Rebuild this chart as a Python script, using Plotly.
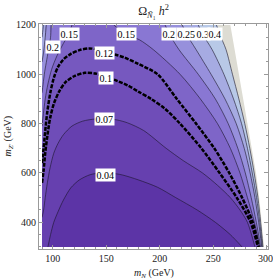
import plotly.graph_objects as go

# ---------------- data ----------------
levels = [0.04, 0.07, 0.1, 0.12, 0.15, 0.2, 0.25, 0.3, 0.4]
x_ticks = [100, 150, 200, 250, 300]
y_ticks = [400, 600, 800, 1000, 1200]

# domain of the scan
mN_min = 90
mZ_min = 300
mZ_max = 1200
edge_x = [266, 270, 274, 278, 282.5, 286.5, 290, 293, 295.5, 297.5]
edge_y = [1200, 1100, 1000, 900, 800, 700, 600, 500, 400, 300]

# contour 0.04
c004_x = [95.5, 98, 101, 105, 110, 117, 125, 135, 145, 155, 165, 180, 198, 215, 235, 252, 266, 277]
c004_y = [300, 350, 400, 443, 490, 540, 572, 593, 600, 599, 592, 572, 542, 500, 450, 400, 350, 300]
# contour 0.07
c007_x = [90, 91.5, 93, 95, 97.5, 101, 105, 110, 118, 128, 140, 150, 160, 170, 185, 206, 222, 240, 254, 266, 275, 282, 289]
c007_y = [420, 450, 500, 560, 620, 680, 720, 755, 790, 810, 819, 820, 815, 803, 772, 700, 650, 600, 550, 500, 450, 400, 300]
# contour 0.1
c010_x = [90, 91.5, 93, 95, 97.5, 101, 106, 112, 120, 130, 140, 149.5, 158, 170, 180, 192, 205, 219, 239, 256, 272, 285, 291.8]
c010_y = [560, 610, 680, 750, 820, 880, 930, 968, 992, 1006, 1003, 990, 977, 955, 930, 900, 860, 800, 700, 600, 500, 400, 300]
# contour 0.12
c012_x = [90, 91.5, 93, 95, 98, 101, 105, 110, 117, 125, 134, 142, 148.6, 158, 167, 180, 198, 216, 234, 251, 265, 277, 287, 292.7]
c012_y = [640, 700, 770, 850, 930, 985, 1030, 1060, 1083, 1098, 1105, 1100, 1090, 1080, 1068, 1042, 1000, 900, 800, 700, 600, 500, 400, 300]
# contour 0.15 (left and right branches)
c015_left_x = [90, 91.3, 93, 95.5, 99, 104, 110, 115.5, 118]
c015_left_y = [790, 840, 900, 960, 1020, 1075, 1125, 1166, 1200]
c015_right_x = [157, 169, 181, 194, 219, 238, 254, 266, 275, 282, 288.5, 293.5]
c015_right_y = [1200, 1161, 1140, 1100, 1000, 900, 800, 700, 600, 500, 400, 300]
# contour 0.2
c020_left_x = [90, 91, 92.5, 94.5, 96.5, 98, 98.5]
c020_left_y = [925, 960, 1010, 1060, 1110, 1150, 1200]
c020_right_x = [205, 209, 218, 236, 252, 264, 273, 280, 285.5, 290.3, 294.3]
c020_right_y = [1200, 1163, 1100, 1000, 900, 800, 700, 600, 500, 400, 300]
# contour 0.25
c025_left_x = [90, 91.5, 93, 94]
c025_left_y = [1050, 1090, 1150, 1200]
c025_right_x = [221, 225, 234, 248, 261, 271.5, 279, 284.5, 289, 292.5, 295.3]
c025_right_y = [1200, 1163, 1100, 1000, 900, 800, 700, 600, 500, 400, 300]
# contour 0.3
c030_left_x = [90, 90.6, 91.3]
c030_left_y = [1150, 1170, 1200]
c030_right_x = [236, 240, 249, 260, 269, 276.5, 282, 286.5, 290.5, 293.5, 295.9]
c030_right_y = [1200, 1163, 1100, 1000, 900, 800, 700, 600, 500, 400, 300]
# contour 0.4
c040_x = [253, 256, 262, 268, 274, 279.5, 284.2, 288.3, 291.8, 294.4, 296.5]
c040_y = [1200, 1163, 1100, 1000, 900, 800, 700, 600, 500, 400, 300]

# contour label positions (text, mN, mZ')
label_text = ["0.15", "0.2", "0.15", "0.12", "0.1", "0.07", "0.04", "0.2", "0.25", "0.3", "0.4"]
label_x = [115.5, 100.5, 169, 148.6, 149.5, 148.6, 149.5, 208.5, 225, 240, 251.5]
label_y = [1164, 1112, 1163, 1085, 985, 819, 593, 1163, 1163, 1163, 1163]

# ---------------- styling ----------------
band_colors = ['#5c34a6', '#6640af', '#6f4db8', '#7658bf', '#7e65c8',
               '#8977d3', '#9790dc', '#a6abe2', '#b8c9e7', '#dddcd3']
SERIF = "Liberation Serif, Times New Roman, serif"

pieces = {
    0.04: (None, (c004_x, c004_y), 'closed'),
    0.07: (None, (c007_x, c007_y), 'edge'),
    0.1: (None, (c010_x, c010_y), 'edge'),
    0.12: (None, (c012_x, c012_y), 'edge'),
    0.15: ((c015_left_x, c015_left_y), (c015_right_x, c015_right_y), 'split'),
    0.2: ((c020_left_x, c020_left_y), (c020_right_x, c020_right_y), 'split'),
    0.25: ((c025_left_x, c025_left_y), (c025_right_x, c025_right_y), 'split'),
    0.3: ((c030_left_x, c030_left_y), (c030_right_x, c030_right_y), 'split'),
    0.4: (None, (c040_x, c040_y), 'top'),
}


def sublevel_polygon(lv):
    left, main, kind = pieces[lv]
    mx, my = main
    if kind == 'closed':
        return list(mx), list(my)
    if kind == 'edge':
        return [mN_min] + list(mx), [mZ_min] + list(my)
    if kind == 'top':
        return [mN_min, mN_min] + list(mx), [mZ_min, mZ_max] + list(my)
    lx, ly = left
    return [mN_min] + list(lx) + list(mx), [mZ_min] + list(ly) + list(my)


fig = go.Figure()

# highest band: the whole scan domain
fig.add_trace(go.Scatter(
    x=[mN_min, mN_min, 305, 305], y=[mZ_min, mZ_max, mZ_max, mZ_min],
    fill='toself', fillcolor=band_colors[-1], mode='lines', line=dict(width=0),
    hoverinfo='skip', showlegend=False))

# sublevel fills, from the highest level down
for i in range(len(levels) - 1, -1, -1):
    lv = levels[i]
    px_, py_ = sublevel_polygon(lv)
    fig.add_trace(go.Scatter(
        x=px_, y=py_, fill='toself', fillcolor=band_colors[i], mode='lines',
        line=dict(width=0, shape='spline', smoothing=0.8),
        hoverinfo='skip', showlegend=False))

# contour lines
for lv in levels:
    left, main, kind = pieces[lv]
    xs, ys = [], []
    if left is not None:
        xs += list(left[0]) + [None]
        ys += list(left[1]) + [None]
    xs += list(main[0])
    ys += list(main[1])
    if lv in (0.1, 0.12):
        fig.add_trace(go.Scatter(
            x=xs, y=ys, mode='lines',
            line=dict(color='black', width=2.5, dash='4px,1.4px', shape='spline', smoothing=0.8),
            hoverinfo='skip', showlegend=False))
    else:
        fig.add_trace(go.Scatter(
            x=xs, y=ys, mode='lines',
            line=dict(color='rgba(25,20,40,0.85)', width=0.7, shape='spline', smoothing=0.8),
            hoverinfo='skip', showlegend=False))

# white outside the scan domain
masks = [
    ([70, mN_min, mN_min, 70], [250, 250, 1250, 1250]),
    ([70, 320, 320, 70], [250, 250, mZ_min, mZ_min]),
    ([70, 320, 320, 70], [mZ_max, mZ_max, 1250, 1250]),
    ([edge_x[0]] + edge_x + [320, 320], [1250] + edge_y + [250, 1250]),
]
for mx, my in masks:
    fig.add_trace(go.Scatter(
        x=mx, y=my, fill='toself', fillcolor='white', mode='lines',
        line=dict(width=0), hoverinfo='skip', showlegend=False))

# contour labels
for t, x, y in zip(label_text, label_x, label_y):
    fig.add_annotation(x=x, y=y, text=t, showarrow=False, bgcolor='white',
                       borderpad=0.5, font=dict(family=SERIF, size=10, color='black'))

# last x tick label (sits at the very edge of the picture)
fig.add_annotation(x=x_ticks[-1], xref='x', y=0, yref='paper', yanchor='top', yshift=-2,
                   xshift=-1, text=str(x_ticks[-1]), showarrow=False,
                   font=dict(family=SERIF, size=10, color='#222'))

# axis titles
fig.add_annotation(xref='paper', yref='paper', x=0.5, y=0, yshift=-24, yanchor='middle',
                   text="<i>m</i><sub><i>N</i></sub> (GeV)", showarrow=False,
                   font=dict(family=SERIF, size=10, color='#222'))
fig.add_annotation(xref='paper', yref='paper', x=0, y=0.5, xshift=-31, xanchor='center',
                   yanchor='middle', textangle=-90,
                   text="<i>m</i><sub><i>Z'</i></sub> (GeV)", showarrow=False,
                   font=dict(family=SERIF, size=10, color='#222'))

axis_common = dict(showgrid=False, zeroline=False, showline=True, linecolor='#9a9a9a',
                   linewidth=1, mirror='ticks', ticks='inside', ticklen=4,
                   tickcolor='#9a9a9a', tickwidth=1,
                   tickfont=dict(family=SERIF, size=10, color='#222'))

fig.update_layout(
    width=273, height=279,
    margin=dict(l=39, r=5, t=24, b=30),
    paper_bgcolor='white', plot_bgcolor='white',
    title=dict(text="Ω<sub><i>Ñ</i>₁</sub> <i>h</i><sup>2</sup>",
               x=0.5, xref='paper', y=1 - 11 / 279, yref='container', yanchor='middle',
               font=dict(family=SERIF, size=12, color='#222')),
    xaxis=dict(range=[87.2, 301.2], tickvals=x_ticks,
               ticktext=[str(v) for v in x_ticks[:-1]] + [''],
               minor=dict(dtick=10, tick0=100, ticks='inside', ticklen=2, tickcolor='#9a9a9a'),
               **axis_common),
    yaxis=dict(range=[291.8, 1203.8], tickvals=y_ticks,
               minor=dict(dtick=50, tick0=400, ticks='inside', ticklen=2, tickcolor='#9a9a9a'),
               **axis_common),
)

fig.write_html("out.html", config={'displayModeBar': False},
               post_script="document.body.style.margin='0px';")
